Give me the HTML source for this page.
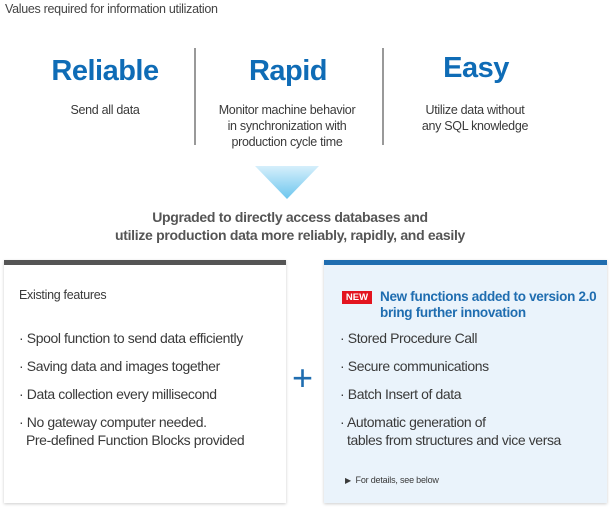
<!DOCTYPE html>
<html><head><style>
body{margin:0;width:610px;height:509px;background:#fff;position:relative;overflow:hidden;font-family:"Liberation Sans",sans-serif;color:#3a3a3a}
.a{position:absolute;white-space:nowrap}
.h{font-weight:bold;color:#0f6cb6;font-size:29px;text-align:center;width:190px;letter-spacing:-0.5px}
.s{font-size:12.5px;text-align:center;width:190px;line-height:16px;letter-spacing:-0.3px}
.b{font-size:14px;letter-spacing:-0.4px;line-height:18px}
</style></head><body>
<div class="a" style="left:5px;top:2px;font-size:12.5px;letter-spacing:-0.3px;color:#444">Values required for information utilization</div>
<div class="a" style="left:194px;top:48px;width:2px;height:97px;background:#999"></div>
<div class="a" style="left:382px;top:48px;width:2px;height:97px;background:#999"></div>
<div class="a h" style="left:10px;top:55px">Reliable</div>
<div class="a h" style="left:193px;top:55px">Rapid</div>
<div class="a h" style="left:381px;top:52px">Easy</div>
<div class="a s" style="left:10px;top:102px">Send all data</div>
<div class="a s" style="left:192px;top:102px">Monitor machine behavior<br>in synchronization with<br>production cycle time</div>
<div class="a s" style="left:380px;top:102px">Utilize data without<br>any SQL knowledge</div>
<svg class="a" style="left:255px;top:166px" width="64" height="34"><defs><linearGradient id="g" x1="0" y1="0" x2="0" y2="1"><stop offset="0" stop-color="#d6effb"/><stop offset="1" stop-color="#6cc6ee"/></linearGradient></defs><polygon points="0,0 64,0 32,33" fill="url(#g)"/></svg>
<div class="a" style="left:0;width:580px;text-align:center;top:208px;font-size:14px;font-weight:bold;color:#555;line-height:18px;letter-spacing:-0.3px">Upgraded to directly access databases and<br>utilize production data more reliably, rapidly, and easily</div>
<div class="a" style="left:4px;top:260px;width:282px;height:243px;background:#fff;box-shadow:0 1px 3px rgba(0,0,0,.2)"></div>
<div class="a" style="left:4px;top:260px;width:282px;height:5px;background:#555"></div>
<div class="a" style="left:324px;top:260px;width:283px;height:243px;background:#eaf3fb;box-shadow:0 1px 3px rgba(0,0,0,.2)"></div>
<div class="a" style="left:324px;top:260px;width:283px;height:5px;background:#1f6db0"></div>
<div class="a" style="left:19px;top:288px;font-size:12.5px;letter-spacing:-0.3px">Existing features</div>
<div class="a b" style="left:19px;top:329px">· Spool function to send data efficiently</div>
<div class="a b" style="left:19px;top:357px">· Saving data and images together</div>
<div class="a b" style="left:19px;top:385px">· Data collection every millisecond</div>
<div class="a b" style="left:19px;top:413px">· No gateway computer needed.<br>&nbsp;&nbsp;Pre-defined Function Blocks provided</div>
<div class="a" style="left:292px;top:360px;font-size:36px;color:#1f6db0;line-height:36px">+</div>
<div class="a" style="left:342px;top:291px;width:30px;height:13px;background:#e3141f;color:#fff;font-size:9.5px;font-weight:bold;text-align:center;line-height:13px">NEW</div>
<div class="a" style="left:380px;top:289px;font-size:13.5px;font-weight:bold;color:#1f6db0;line-height:16px;letter-spacing:-0.3px">New functions added to version 2.0<br>bring further innovation</div>
<div class="a b" style="left:340px;top:329px">· Stored Procedure Call</div>
<div class="a b" style="left:340px;top:357px">· Secure communications</div>
<div class="a b" style="left:340px;top:385px">· Batch Insert of data</div>
<div class="a b" style="left:340px;top:413px">· Automatic generation of<br>&nbsp;&nbsp;tables from structures and vice versa</div>
<div class="a" style="left:345px;top:475px;font-size:9px;letter-spacing:-0.2px"><span style="font-size:8px">▶</span>&nbsp; For details, see below</div>
</body></html>
